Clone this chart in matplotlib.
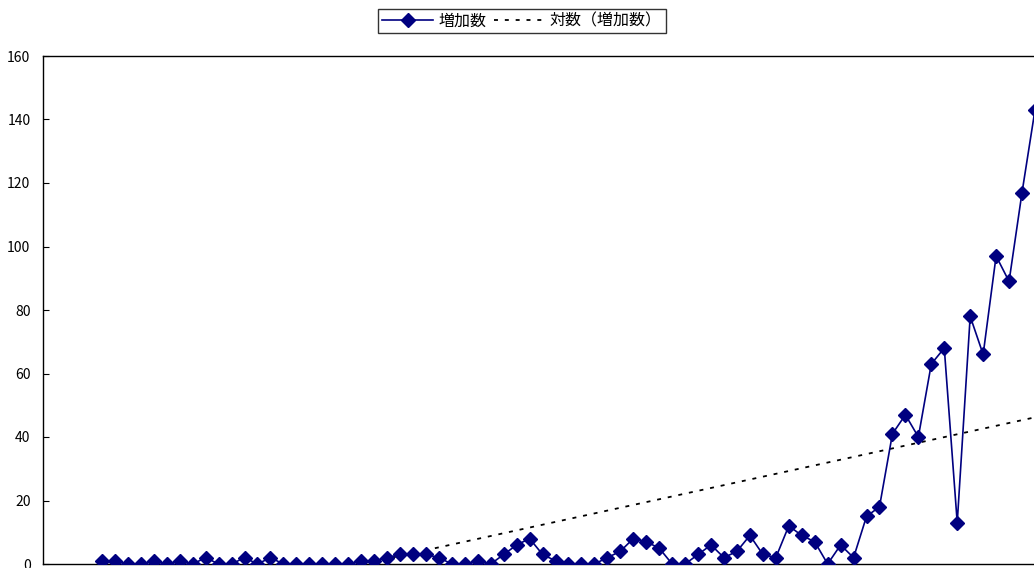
import numpy as np
import pandas as pd
import matplotlib
matplotlib.use("Agg")
import matplotlib.pyplot as plt

plt.rcParams['font.family'] = ['Noto Sans CJK JP', 'DejaVu Sans']

# daily new cases, 2020-01-24 .. 2020-04-05
dates = pd.date_range("2020-01-24", periods=73, freq="D")
counts = [1, 1, 0, 0, 1, 0, 1, 0, 2, 0, 0, 2, 0, 2, 0, 0, 0, 0, 0, 0, 1, 1,
          2, 3, 3, 3, 2, 0, 0, 1, 0, 3, 6, 8, 3, 1, 0, 0, 0, 2, 4, 8, 7, 5, 0, 0,
          3, 6, 2, 4, 9, 3, 2, 12, 9, 7, 0, 6, 2, 15, 18, 41, 47, 40, 63, 68, 13,
          78, 66, 97, 89, 117, 143]
label_main = "増加数"
label_trend = "対数（増加数）"
yticks = [0, 20, 40, 60, 80, 100, 120, 140, 160]

# excel style log trendline on date serial numbers
serial = (dates - pd.Timestamp("1899-12-30")).days.values.astype(float)
a, b = np.polyfit(np.log(serial), np.array(counts, dtype=float), 1)
trend = a * np.log(serial) + b

x = np.arange(len(counts))

fig = plt.figure(figsize=(10.34, 5.68), dpi=100)
ax = fig.add_axes([43/1034, 4/568, 1017/1034, 508/568])

ax.plot(x, trend, color="black", lw=1.3, ls=(0, (2.2, 3.8)), label=label_trend, zorder=3)
ax.plot(x, counts, color="#000080", lw=1.2, marker="D", ms=7.0,
        mfc="#000080", mec="#000080", label=label_main, zorder=4)

px = 12.958
ax.set_xlim(-59/px, -59/px + 1017/px)
ax.set_ylim(0, 160)
ax.set_yticks(yticks)
ax.set_xticks([])
ax.tick_params(axis="y", direction="in", length=4, width=0.8, pad=9, labelsize=10)
ax.spines["right"].set_visible(False)
for s in ["left", "top", "bottom"]:
    ax.spines[s].set_linewidth(1.0)
    ax.spines[s].set_color("black")

h, l = ax.get_legend_handles_labels()
leg = fig.legend(h[::-1], l[::-1], loc="center", bbox_to_anchor=(522/1034, 1 - 21/568),
                 ncol=2, fontsize=11.5, frameon=True, fancybox=False, edgecolor="black",
                 handlelength=3.2, columnspacing=0.5, handletextpad=0.3,
                 borderpad=0.25, borderaxespad=0)
leg.get_frame().set_linewidth(1.0)

fig.savefig("out.png", dpi=100)
